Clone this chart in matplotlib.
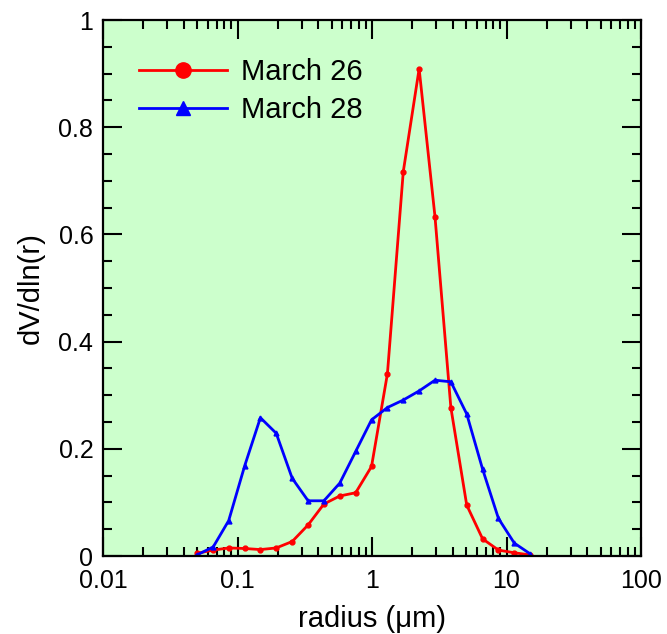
import matplotlib
matplotlib.use("Agg")
import matplotlib.pyplot as plt
from matplotlib.lines import Line2D
from matplotlib.ticker import MultipleLocator, LogLocator, NullFormatter

plt.rcParams['font.family'] = ['Liberation Sans', 'DejaVu Sans']

radius = [0.050, 0.066, 0.086, 0.113, 0.148, 0.194, 0.255, 0.335, 0.439, 0.576, 0.756,
          0.992, 1.302, 1.708, 2.241, 2.940, 3.857, 5.061, 6.641, 8.713, 11.432, 15.000]
march26 = [0.005, 0.011, 0.015, 0.014, 0.012, 0.015, 0.027, 0.058, 0.097, 0.112, 0.118,
           0.167, 0.340, 0.717, 0.909, 0.633, 0.277, 0.095, 0.032, 0.011, 0.006, 0.002]
march28 = [0.002, 0.017, 0.066, 0.168, 0.258, 0.229, 0.145, 0.103, 0.103, 0.136, 0.195,
           0.254, 0.277, 0.291, 0.308, 0.328, 0.325, 0.265, 0.162, 0.070, 0.024, 0.004]
labels = ["March 26", "March 28"]
xticks = [0.01, 0.1, 1, 10, 100]
xticklabels = ["0.01", "0.1", "1", "10", "100"]
yticks = [0, 0.2, 0.4, 0.6, 0.8, 1.0]
yticklabels = ["0", "0.2", "0.4", "0.6", "0.8", "1"]

fig = plt.figure(figsize=(6.67, 6.34), dpi=100)
ax = fig.add_axes([103/667, 78/634, 538/667, 536/634])
ax.set_facecolor('#CCFFCC')

ax.plot(radius, march26, color='#FF0000', lw=2.0, marker='o', ms=3.5)
ax.plot(radius, march28, color='#0000FF', lw=2.0, marker='^', ms=3.5)

ax.set_xscale('log')
ax.set_xlim(0.01, 100)
ax.set_ylim(0, 1)
ax.set_xticks(xticks)
ax.set_xticklabels(xticklabels)
ax.xaxis.set_minor_locator(LogLocator(base=10, subs=range(2, 10), numticks=20))
ax.xaxis.set_minor_formatter(NullFormatter())
ax.set_yticks(yticks)
ax.set_yticklabels(yticklabels)
ax.yaxis.set_minor_locator(MultipleLocator(0.05))

for s in ax.spines.values():
    s.set_linewidth(1.6)
ax.tick_params(which='both', direction='in', top=True, right=True, width=1.5, labelsize=18)
ax.tick_params(which='major', length=13.5)
ax.tick_params(axis='x', which='major', pad=9)
ax.tick_params(axis='y', which='major', pad=7)
ax.tick_params(which='minor', length=6.8)

ax.set_xlabel('radius (\u03bcm)', fontsize=21, labelpad=9)
ax.set_ylabel('dV/dln(r)', fontsize=21, labelpad=10)

handles = [Line2D([], [], color='#FF0000', lw=2.0, marker='o', ms=11),
           Line2D([], [], color='#0000FF', lw=2.0, marker='^', ms=10)]
ax.legend(handles, labels, loc='upper left', bbox_to_anchor=(36/538, 0.929), frameon=False,
          fontsize=21, handlelength=3.0, handletextpad=0.5, labelspacing=0.35,
          borderpad=0, borderaxespad=0)

fig.savefig('out.png', dpi=100)
